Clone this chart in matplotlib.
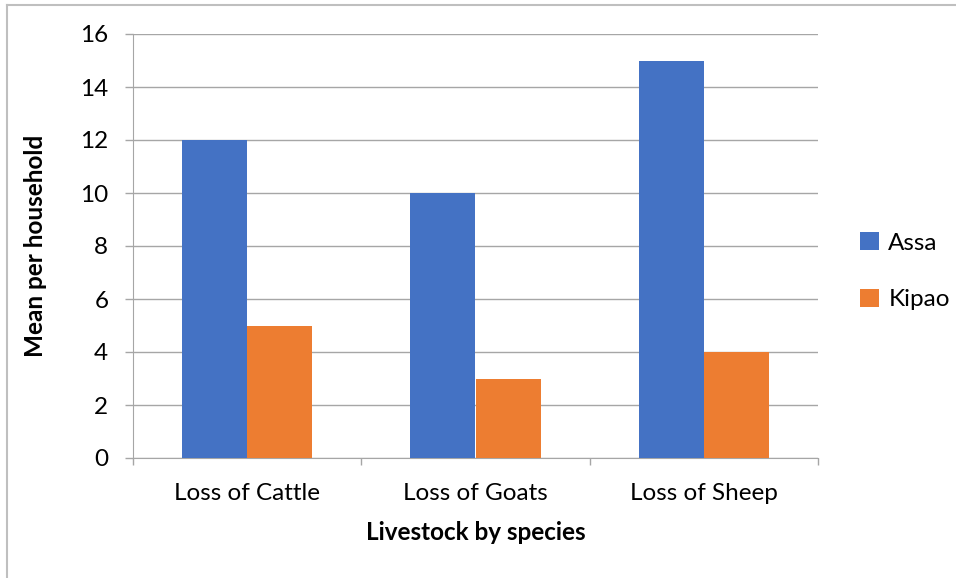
import matplotlib
matplotlib.use("Agg")
import matplotlib.pyplot as plt
import numpy as np

categories = ["Loss of Cattle", "Loss of Goats", "Loss of Sheep"]
series_names = ["Assa", "Kipao"]
assa = [12, 10, 15]
kipao = [5, 3, 4]
y_ticks = [0, 2, 4, 6, 8, 10, 12, 14, 16]

colors = ["#4472C4", "#ED7D31"]
grid_color = "#A6A6A6"
fs = 17.5

plt.rcParams["font.family"] = ["Lato", "DejaVu Sans"]

W, H = 956, 578
fig = plt.figure(figsize=(W / 100, H / 100), dpi=100)
fig.patch.set_facecolor("white")

# chart frame (top and left edges visible)
fig.add_artist(plt.Line2D([7 / W, 1], [1 - 5 / H, 1 - 5 / H], color="#BFBFBF", lw=1.5))
fig.add_artist(plt.Line2D([7 / W, 7 / W], [0, 1 - 5 / H], color="#BFBFBF", lw=1.5))

left, right, top, bottom = 133, 818, 34, 458
ax = fig.add_axes([left / W, 1 - bottom / H, (right - left) / W, (bottom - top) / H])

x = np.arange(len(categories))
bw = 1 / 3.5
ax.bar(x - bw / 2, assa, width=bw, color=colors[0], label=series_names[0], zorder=3)
ax.bar(x + bw / 2, kipao, width=bw, color=colors[1], label=series_names[1], zorder=3)

ax.set_xlim(-0.5, len(categories) - 0.5)
ax.set_ylim(0, 16)
ax.set_yticks(y_ticks)
ax.set_yticklabels([str(v) for v in y_ticks], fontsize=fs)
ax.yaxis.grid(True, color=grid_color, lw=1, zorder=0)

ax.set_xticks(x)
ax.set_xticklabels(categories, fontsize=fs)
ax.tick_params(axis="x", length=0, pad=18)
ax.set_xticks(np.arange(-0.5, len(categories)), minor=True)
ax.tick_params(axis="x", which="minor", length=5, color=grid_color, width=1)
ax.tick_params(axis="y", length=5.8, color=grid_color, width=1, pad=12)

for s in ["top", "right"]:
    ax.spines[s].set_visible(False)
ax.spines["left"].set_color(grid_color)
ax.spines["bottom"].set_color(grid_color)

ax.set_ylabel("Mean per household", fontsize=fs, fontweight="bold", labelpad=24)
ax.set_xlabel("Livestock by species", fontsize=fs, fontweight="bold", labelpad=12)

leg = ax.legend(loc="center left", bbox_to_anchor=(1.03, 0.44), frameon=False,
                fontsize=fs, handlelength=0.75, handleheight=0.75, labelspacing=1.45,
                handletextpad=0.4)

fig.savefig("out.png", dpi=100, facecolor="white")
